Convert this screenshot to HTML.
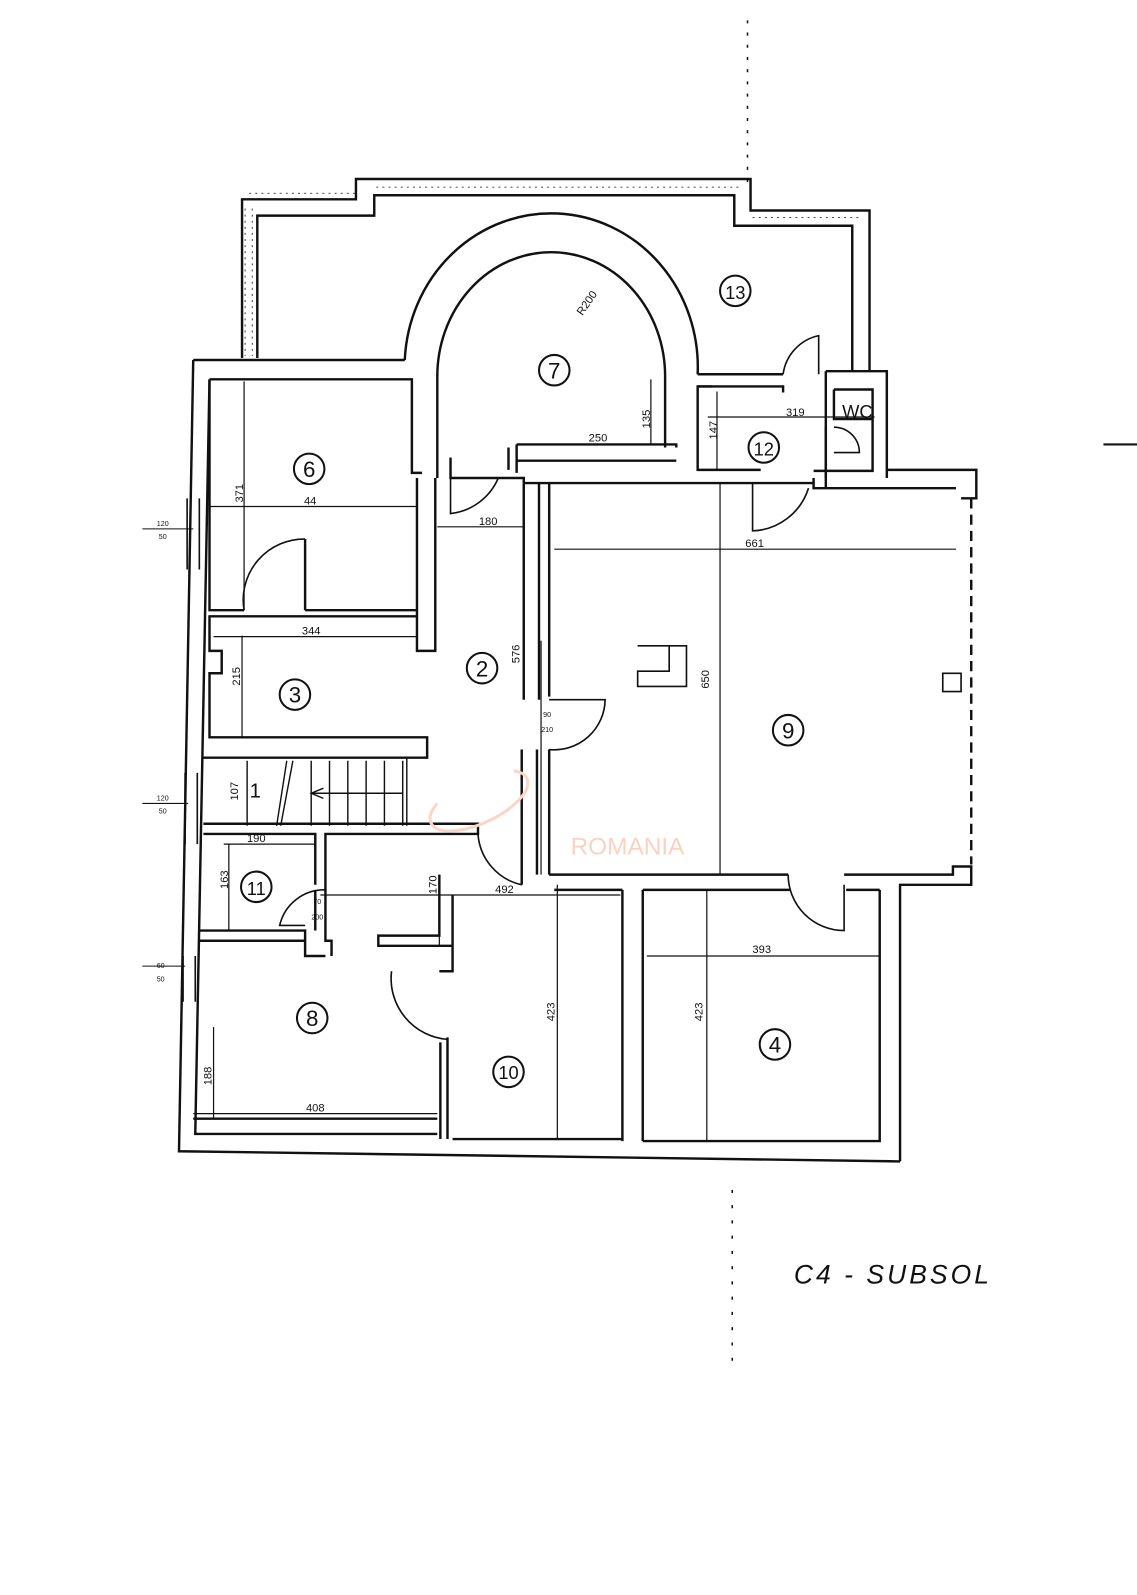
<!DOCTYPE html>
<html><head><meta charset="utf-8"><style>
html,body{margin:0;padding:0;background:#fff;}
svg{display:block;}
text{font-family:"Liberation Sans",sans-serif;fill:#111;}
</style></head><body>
<svg width="1137" height="1595" viewBox="0 0 1137 1595" xmlns="http://www.w3.org/2000/svg">
<g transform="scale(1.017)" fill="none" stroke="#111" stroke-width="2.4" stroke-linejoin="miter">
<path d="M735 20 V180" stroke-width="1.5" stroke-dasharray="3 9"/>
<path d="M720 1170 V1340" stroke-width="1.5" stroke-dasharray="3 12"/>
<path d="M1085 437 H1118" stroke-width="2"/>
<path d="M238 352 V196 H350 V176 H738 V207 H855 V365"/>
<path d="M253 352 V212 H368 V192 H722 V222 H838 V365"/>
<path d="M241 205 V350 M248 205 V350 M245 190 H350 M370 184 H730 M740 214 H848" stroke-width="0.8" stroke-dasharray="2 4"/>
<path d="M190 354 H398 M206 373 H405 V465 H415"/>
<path d="M398 354 A143 150 0 0 1 686 368"/>
<path d="M430 470 V370 A112 122 0 0 1 654 370 V440"/>
<path d="M686 368 H770 M686 380 H770 V386"/>
<path d="M700 380 H686 V462 H748"/>
<path d="M812 365 H872 V470 M820 383 H858 V463 H800 M812 365 V480 M820 383 V412 H858"/>
<path d="M812 420 V470"/>
<path d="M872 462 H960 V490 H945 M800 470 V480 H940"/>
<path d="M508 437 H665 V440 M508 453 H665 M508 437 V465 M500 440 V462"/>
<path d="M443 450 V470 H515 V475"/>
<path d="M515 475 H800"/>
<path d="M410 470 V640 H428 V470"/>
<path d="M206 373 V600 H240 M300 600 H410 M206 606 H410"/>
<path d="M300 530 V600"/>
<path d="M206 605 V640 H218 V662 H206 V725 H420 V745 H200"/>
<path d="M200 810 H470 V820 H320 V880 M200 820 H310 V870"/>
<path d="M243 748 V812 M288 748 L276 812 M282 748 L272 812 M306 748 V812 M324 748 V812 M342 748 V812 M360 748 V812 M378 748 V812 M396 748 V812 M400 745 V812" stroke-width="1.4"/>
<path d="M396 780 H306 M318 775 L306 780 L318 785" stroke-width="1.4"/>
<path d="M515 475 V688 M530 475 V688 M513 737 V870 M528 737 V860 M540 475 V685 M540 737 V860"/>
<path d="M540 860 H775 M830 860 H937 V852 H955 V870 H885 V1142"/>
<path d="M955 490 V850" stroke-dasharray="10 6"/>
<path d="M195 915 H300 V925 M195 925 H300 V940 H320"/>
<path d="M310 875 V915 M320 880 V925 H326 V940"/>
<path d="M432 860 V920 H372 V930 H445 V880 M445 880 V955 H432"/>
<path d="M440 1020 V1120 M433 1025 V1120"/>
<path d="M612 875 V1122 M632 875 V1122 M612 875 H545 M632 875 H777 M832 875 H865"/>
<path d="M190 354 L176 1132 L885 1142"/>
<path d="M206 373 L192 1115 H430 M190 1100 H430 M445 1120 H612 M632 1122 H865 V875"/>
<path d="M184 490 V560 M196 490 V560 M182 760 V830 M194 760 V830 M180 940 V985 M192 940 V985" stroke-width="1.6"/>
<path d="M140 520 H190 M140 790 H185 M140 950 H182" stroke-width="1"/>
<path d="M443 450 V505 A58 58 0 0 0 490 470" stroke-width="1.6"/>
<path d="M300 530 A60 60 0 0 0 240 600" stroke-width="1.6"/>
<path d="M770 368 A45 45 0 0 1 805 330 V368" stroke-width="1.6"/>
<path d="M820 420 A25 25 0 0 1 845 445 H820" stroke-width="1.6"/>
<path d="M795 480 A60 60 0 0 1 740 522 V475" stroke-width="1.6"/>
<path d="M540 688 H595 A50 50 0 0 1 540 737" stroke-width="1.6"/>
<path d="M470 820 A55 55 0 0 0 513 870" stroke-width="1.6"/>
<path d="M320 875 A45 45 0 0 0 275 910 H300" stroke-width="1.6"/>
<path d="M385 955 A60 60 0 0 0 440 1022" stroke-width="1.6"/>
<path d="M775 860 A55 55 0 0 0 830 915 V870" stroke-width="1.6"/>
<path d="M627 635 H675 V675 H627 V660 H658 V635" stroke-width="1.6"/>
<path d="M927 662 H945 V680 H927 Z" stroke-width="1.6"/>
<g stroke-width="1.2">
<path d="M206 498 H410 M240 375 V600 M430 518 H515 M545 540 H940 M708 475 V860 M640 373 V437 M696 410 H860 M705 385 V462 M210 626 H410 M238 625 V725 M532 630 V860 M220 830 H310 M225 830 V915 M315 880 H610 M432 880 V930 M548 870 V1120 M636 940 H865 M695 875 V1122 M210 1010 V1100 M190 1095 H430"/>
</g>
</g>
<g transform="scale(1.017)" fill="none" stroke="#111" stroke-width="2">
<circle cx="304" cy="461" r="15"/><circle cx="545" cy="364" r="15"/><circle cx="723" cy="286" r="15"/>
<circle cx="751" cy="440" r="15"/><circle cx="474" cy="657" r="15"/><circle cx="290" cy="683" r="15"/>
<circle cx="775" cy="718" r="15"/><circle cx="252" cy="872" r="15"/><circle cx="307" cy="1001" r="15"/>
<circle cx="500" cy="1054" r="15"/><circle cx="762" cy="1027" r="15"/>
<path d="M505 758 A52 22 -25 1 1 430 790" stroke="#f9d6c8" stroke-width="3"/>
</g>
<g transform="scale(1.017)" font-size="22" text-anchor="middle">
<text x="304" y="469">6</text><text x="545" y="372">7</text><text x="723" y="294" font-size="18">13</text>
<text x="751" y="448" font-size="18">12</text><text x="474" y="665">2</text><text x="290" y="691">3</text>
<text x="775" y="726">9</text><text x="252" y="880" font-size="18">11</text><text x="307" y="1009">8</text>
<text x="500" y="1061" font-size="18">10</text><text x="762" y="1035">4</text>
<text x="251" y="784" font-size="20">1</text>
<text x="843" y="411" font-size="18">WC</text>
<text x="617" y="840" font-size="24" style="fill:#f9d3c2">ROMANIA</text>
<g font-size="11">
<text x="305" y="496">44</text><text x="480" y="516">180</text><text x="742" y="538">661</text>
<text x="588" y="434">250</text><text x="782" y="409">319</text><text x="306" y="624">344</text>
<text x="252" y="828">190</text><text x="496" y="878">492</text><text x="749" y="937">393</text>
<text x="310" y="1093">408</text>
<text x="580" y="300" transform="rotate(-55 580 300)">R200</text>
</g>
<g font-size="11">
<text transform="translate(239 485) rotate(-90)">371</text>
<text transform="translate(639 412) rotate(-90)">135</text>
<text transform="translate(705 423) rotate(-90)">147</text>
<text transform="translate(697 668) rotate(-90)">650</text>
<text transform="translate(511 643) rotate(-90)">576</text>
<text transform="translate(236 665) rotate(-90)">215</text>
<text transform="translate(234 778) rotate(-90)">107</text>
<text transform="translate(224 865) rotate(-90)">163</text>
<text transform="translate(429 870) rotate(-90)">170</text>
<text transform="translate(545 995) rotate(-90)">423</text>
<text transform="translate(691 995) rotate(-90)">423</text>
<text transform="translate(208 1058) rotate(-90)">188</text>
</g>
<g font-size="7">
<text x="160" y="517">120</text><text x="160" y="530">50</text>
<text x="160" y="787">120</text><text x="160" y="800">50</text>
<text x="158" y="952">60</text><text x="158" y="965">50</text>
<text x="538" y="705">90</text><text x="538" y="720">210</text>
<text x="312" y="889">70</text><text x="312" y="904">200</text>
</g>
<text x="878" y="1262" font-size="26" font-style="italic" letter-spacing="3">C4 - SUBSOL</text>
</g>
</svg>
</body></html>
